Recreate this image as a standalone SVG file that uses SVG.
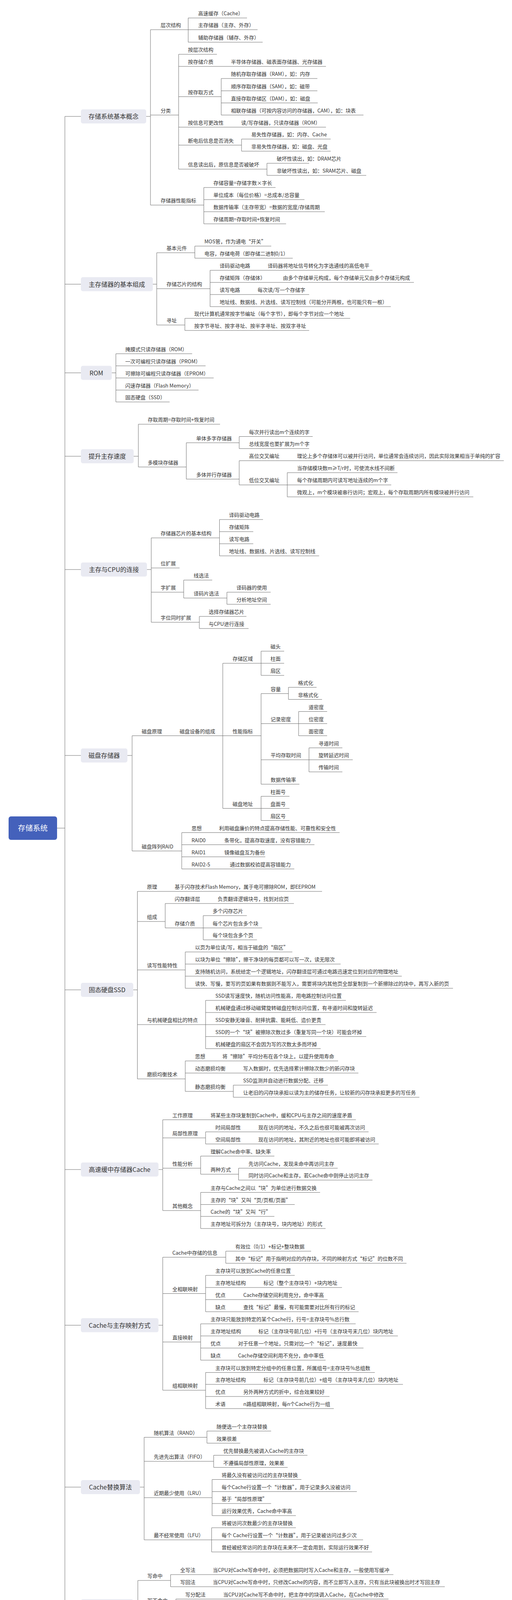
<svg xmlns="http://www.w3.org/2000/svg" width="1310" height="4238" viewBox="0 0 1310 4238">
<style>
text{font-family:"Noto Sans CJK SC","Noto Sans",sans-serif;fill:#333}
.t{font-size:13px}
.bt{font-size:16px;text-anchor:middle}
.box{fill:#e9eaf2}
.rootbox{fill:#4461bb}
.rt{font-size:19px;fill:#fff;text-anchor:middle}
.ln{fill:none;stroke:#6b6b6b;stroke-width:1}
</style>
<rect width="1310" height="4238" fill="#fff"/>
<g id="connectors">
<path class="ln" d="M146 2120H166M166 298V4112
M166 298H207M374 298H385M385 76V525
M385 76H659M481.5 46V108M481.5 46H632M481.5 108H672
M385 294.5H457M457 139V433M457 139H555M457 170H834
M457 247.5H566M566 201V294.5M566 201H812M566 232.5H812M566 263.5H813M566 294.5H930
M457 325.5H834
M457 371.5H618M618 356V387M618 356H846M618 387H846
M457 433H683M683 418V449M683 418H791M683 449H937
M385 525H521.5M521.5 480V573M521.5 480H705M521.5 511H779M521.5 542H831M521.5 573H732
M166 727.5H207M391 727.5H401M401 647V832
M401 647H498.5M498.5 630V661M498.5 630H694M498.5 661H749
M401 739H537.5M537.5 692V785M537.5 692H953M537.5 723H1059M537.5 754H791M537.5 785H1000
M401 832H473M473 815V846M473 815H896M473 846H791
M166 954.5H207M286 954.5H296.5M296.5 905.6V1029
M296.5 905.6H491.6M296.5 936.6H526M296.5 967.6H546.7M296.5 998.6H508M296.5 1029H434
M166 1168H207M342 1168H354M354 1086V1195.5
M354 1086H563
M354 1195.5H476.7M476.7 1133.5V1226.5
M476.7 1133.5H612M612 1117.5V1148.4M612 1117.5H800M612 1148.4H791
M476.7 1226.5H612M612 1179.4V1241.4M612 1179.4H1289M612 1241.4H735M735 1210V1272M735 1210H1017M735 1241.4H1001M735 1272H1211
M166 1458H207M376 1458H387M387 1377V1593
M387 1377H561.6M561.6 1330V1423M561.6 1330H673M561.6 1361H648M561.6 1392H648M561.6 1423H816.5
M387 1454H459.5
M387 1516H470M470 1485V1531M470 1485H543M470 1531H580.6M580.6 1516V1547M580.6 1516H692.5M580.6 1547H692.5
M387 1593H510M510 1578V1609M510 1578H630.5M510 1609H636
M166 1934H207M326 1934H338M338 1883.5V2178.5
M338 1883.5H570M570 1698V2069.5
M570 1698H668M668 1667V1729M668 1667H727M668 1698H727M668 1729H727
M570 1883.5H668M668 1775.6V2007.5
M668 1775.6H738M738 1759.5V1790.5M738 1759.5H810M738 1790.5H824
M668 1852.5H764M764 1821.5V1883.5M764 1821.5H837M764 1852.5H837M764 1883.5H837
M668 1945H790.6M790.6 1914.5V1976M790.6 1914.5H876M790.6 1945H902.6M790.6 1976H876
M668 2007.5H766
M570 2069.5H668M668 2038.5V2100.5M668 2038.5H740.7M668 2069.5H740.7M668 2100.5H740.7
M338 2178.5H465M465 2131.5V2224.5M465 2131.5H869M465 2162.5H804.5M465 2193.5H678.7M465 2224.5H753
M166 2534H207M341 2534H351.5M351.5 2282V2762
M351.5 2282H824
M351.5 2359H422.7M422.7 2313V2375.5M422.7 2313H752M422.7 2375.5H520M520 2344V2406M520 2344H631.6M520 2375.5H670.7M520 2406H657.5
M351.5 2483H474M474 2437V2530M474 2437H748M474 2468H871.6M474 2499H1028M474 2530H1159
M351.5 2623H526M526 2561V2684.6M526 2561H885M526 2592H963.5M526 2623H833M526 2653.6H937M526 2684.6H820.5
M351.5 2762H474M474 2716V2794M474 2716H865M474 2747H917M474 2794H597M597 2778V2809M597 2778H839M597 2809H1073
M166 2994H207M405.5 2994H416.4M416.4 2866.6V3099
M416.4 2866.6H910.6
M416.4 2913H526M526 2897.6V2928.6M526 2897.6H943M526 2928.6H969
M416.4 2990.6H513.4M513.4 2959.6V3006M513.4 2959.6H702M513.4 3006H610.4M610.4 2990.6V3021M610.4 2990.6H864M610.4 3021H953
M416.4 3099H513.4M513.4 3052.6V3145M513.4 3052.6H819M513.4 3083.6H754M513.4 3114H702M513.4 3145H833
M166 3392.6H207M405.5 3392.6H416.4M416.4 3218.5V3559
M416.4 3218.5H577.7M577.7 3203V3234M577.7 3203H796M577.7 3234H1040
M416.4 3311.5H526M526 3265V3358M526 3265H754M526 3296H875M526 3327H838M526 3358H917.5
M416.4 3435.5H513.4M513.4 3389V3482M513.4 3389H910M513.4 3420H1018M513.4 3451H930M513.4 3482H833
M416.4 3559H526M526 3513.6V3606M526 3513.6H959M526 3544H1031M526 3575H843M526 3606H854
M166 3807H207M358 3807H368.8M368.8 3679.5V3942
M368.8 3679.5H529.5M529.5 3663.5V3694.5M529.5 3663.5H693.6M529.5 3694.5H614.5
M368.8 3741H546.7M546.7 3725.5V3756.5M546.7 3725.5H786.6M546.7 3756.5H736
M368.8 3834H542.7M542.7 3787.5V3880M542.7 3787.5H771M542.7 3818.5H913M542.7 3849H693.6M542.7 3880H757
M368.8 3942H541.5M541.5 3911V3973M541.5 3911H757M541.5 3942H929M541.5 3973H952
M166 4112H207M341 4112H352.7M352.7 4046V4186
M352.7 4046H436.5M436.5 4031V4062M436.5 4031H1006.5M436.5 4062H1138
M352.7 4109H450M450 4093.5V4124M450 4093.5H994M450 4124H904
M352.7 4186H462M462 4155V4217M462 4155H702M462 4186H751M462 4217H751"/>
</g>
<g id="root"><rect class="rootbox" x="22" y="2090" width="124" height="60" rx="6"/><text class="rt" x="84" y="2127">存储系统</text></g>

<g id="n1"><rect class="box" x="207" y="280" width="167" height="36" rx="5"/><text class="bt" x="290.5" y="304">存储系统基本概念</text></g>
<g id="n1-1"><text class="t" x="411" y="69">层次结构</text></g>
<g id="n1-1-1"><text class="t" x="507" y="39">高速缓存（Cache）</text></g>
<g id="n1-1-2"><text class="t" x="507" y="69">主存储器（主存、外存）</text></g>
<g id="n1-1-3"><text class="t" x="507" y="101">辅助存储器（辅存、外存）</text></g>
<g id="n1-2"><text class="t" x="411" y="287.5">分类</text></g>
<g id="n1-2-1"><text class="t" x="481" y="132">按层次结构</text></g>
<g id="n1-2-2"><text class="t" x="481" y="163">按存储介质</text></g>
<g id="n1-2-2-1"><text class="t" x="591" y="163">半导体存储器、磁表面存储器、光存储器</text></g>
<g id="n1-2-3"><text class="t" x="481" y="240.5">按存取方式</text></g>
<g id="n1-2-3-1"><text class="t" x="591" y="194">随机存取存储器（RAM），如：内存</text></g>
<g id="n1-2-3-2"><text class="t" x="591" y="225.5">顺序存取存储器（SAM），如：磁带</text></g>
<g id="n1-2-3-3"><text class="t" x="591" y="256.5">直接存取存储区（DAM），如：磁盘</text></g>
<g id="n1-2-3-4"><text class="t" x="591" y="287.5">相联存储器（可按内容访问的存储器，CAM），如：块表</text></g>
<g id="n1-2-4"><text class="t" x="481" y="318.5">按信息可更改性</text></g>
<g id="n1-2-4-1"><text class="t" x="617" y="318.5">读/写存储器，只读存储器（ROM）</text></g>
<g id="n1-2-5"><text class="t" x="481" y="364.5">断电后信息是否消失</text></g>
<g id="n1-2-5-1"><text class="t" x="643" y="349">易失性存储器，如：内存、Cache</text></g>
<g id="n1-2-5-2"><text class="t" x="643" y="380">非易失性存储器，如：磁盘、光盘</text></g>
<g id="n1-2-6"><text class="t" x="481" y="426">信息读出后，原信息是否被破坏</text></g>
<g id="n1-2-6-1"><text class="t" x="708" y="411">破坏性读出，如：DRAM芯片</text></g>
<g id="n1-2-6-2"><text class="t" x="708" y="442">非破坏性读出，如：SRAM芯片、磁盘</text></g>
<g id="n1-3"><text class="t" x="411" y="518">存储器性能指标</text></g>
<g id="n1-3-1"><text class="t" x="546" y="473">存储容量=存储字数×字长</text></g>
<g id="n1-3-2"><text class="t" x="546" y="504">单位成本（每位价格）=总成本/总容量</text></g>
<g id="n1-3-3"><text class="t" x="546" y="535">数据传输率（主存带宽）=数据的宽度/存储周期</text></g>
<g id="n1-3-4"><text class="t" x="546" y="566">存储周期=存取时间+恢复时间</text></g>

<g id="n2"><rect class="box" x="207" y="709.5" width="184" height="36" rx="5"/><text class="bt" x="299" y="733.5">主存储器的基本组成</text></g>
<g id="n2-1"><text class="t" x="426" y="640">基本元件</text></g>
<g id="n2-1-1"><text class="t" x="523" y="623">MOS管，作为通电“开关”</text></g>
<g id="n2-1-2"><text class="t" x="523" y="654">电容，存储电荷（即存储二进制0/1）</text></g>
<g id="n2-2"><text class="t" x="426" y="732">存储芯片的结构</text></g>
<g id="n2-2-1"><text class="t" x="562" y="685">译码驱动电路</text></g>
<g id="n2-2-1-1"><text class="t" x="685" y="685">译码器将地址信号转化为字选通线的高低电平</text></g>
<g id="n2-2-2"><text class="t" x="562" y="716">存储矩阵（存储体）</text></g>
<g id="n2-2-2-1"><text class="t" x="724" y="716">由多个存储单元构成，每个存储单元又由多个存储元构成</text></g>
<g id="n2-2-3"><text class="t" x="562" y="747">读写电路</text></g>
<g id="n2-2-3-1"><text class="t" x="659" y="747">每次读/写一个存储字</text></g>
<g id="n2-2-4"><text class="t" x="562" y="778">地址线、数据线、片选线、读写控制线（可能分开两根，也可能只有一根）</text></g>
<g id="n2-3"><text class="t" x="426" y="825">寻址</text></g>
<g id="n2-3-1"><text class="t" x="497" y="808">现代计算机通常按字节编址（每个字节），即每个字节对应一个地址</text></g>
<g id="n2-3-2"><text class="t" x="497" y="839">按字节寻址、按字寻址、按半字寻址、按双字寻址</text></g>

<g id="n3"><rect class="box" x="207" y="936.5" width="79" height="36" rx="5"/><text class="bt" x="246.5" y="960.5">ROM</text></g>
<g id="n3-1"><text class="t" x="320.5" y="898.6">掩膜式只读存储器（ROM）</text></g>
<g id="n3-2"><text class="t" x="320.5" y="929.6">一次可编程只读存储器（PROM）</text></g>
<g id="n3-3"><text class="t" x="320.5" y="960.6">可擦除可编程只读存储器（EPROM）</text></g>
<g id="n3-4"><text class="t" x="320.5" y="991.6">闪速存储器（Flash Memory）</text></g>
<g id="n3-5"><text class="t" x="320.5" y="1022">固态硬盘（SSD）</text></g>

<g id="n4"><rect class="box" x="207" y="1150" width="135" height="36" rx="5"/><text class="bt" x="274.5" y="1174">提升主存速度</text></g>
<g id="n4-1"><text class="t" x="378" y="1079">存取周期=存取时间+恢复时间</text></g>
<g id="n4-2"><text class="t" x="378" y="1188.5">多模块存储器</text></g>
<g id="n4-2-1"><text class="t" x="502" y="1126.5">单体多字存储器</text></g>
<g id="n4-2-1-1"><text class="t" x="637" y="1110.5">每次并行读出m个连续的字</text></g>
<g id="n4-2-1-2"><text class="t" x="637" y="1141.4">总线宽度也要扩展为m个字</text></g>
<g id="n4-2-2"><text class="t" x="502" y="1219.5">多体并行存储器</text></g>
<g id="n4-2-2-1"><text class="t" x="637" y="1172.4">高位交叉编址</text></g>
<g id="n4-2-2-1-1"><text class="t" x="760" y="1172.4">理论上多个存储体可以被并行访问，单位通常会连续访问，因此实际效果相当于单纯的扩容</text></g>
<g id="n4-2-2-2"><text class="t" x="637" y="1234.4">低位交叉编址</text></g>
<g id="n4-2-2-2-1"><text class="t" x="760" y="1203">当存储模块数m≥T/r时，可使流水线不间断</text></g>
<g id="n4-2-2-2-2"><text class="t" x="760" y="1234.4">每个存储周期内可读写地址连续的m个字</text></g>
<g id="n4-2-2-2-3"><text class="t" x="760" y="1265">微观上，m个模块被串行访问；宏观上，每个存取周期内所有模块被并行访问</text></g>

<g id="n5"><rect class="box" x="207" y="1440" width="169" height="36" rx="5"/><text class="bt" x="291.5" y="1464">主存与CPU的连接</text></g>
<g id="n5-1"><text class="t" x="411" y="1370">存储器芯片的基本结构</text></g>
<g id="n5-1-1"><text class="t" x="586" y="1323">译码驱动电路</text></g>
<g id="n5-1-2"><text class="t" x="586" y="1354">存储矩阵</text></g>
<g id="n5-1-3"><text class="t" x="586" y="1385">读写电路</text></g>
<g id="n5-1-4"><text class="t" x="586" y="1416">地址线、数据线、片选线、读写控制线</text></g>
<g id="n5-2"><text class="t" x="411" y="1447">位扩展</text></g>
<g id="n5-3"><text class="t" x="411" y="1509">字扩展</text></g>
<g id="n5-3-1"><text class="t" x="495.6" y="1478">线选法</text></g>
<g id="n5-3-2"><text class="t" x="495.6" y="1524">译码片选法</text></g>
<g id="n5-3-2-1"><text class="t" x="605" y="1509">译码器的使用</text></g>
<g id="n5-3-2-2"><text class="t" x="605" y="1540">分析地址空间</text></g>
<g id="n5-4"><text class="t" x="411" y="1586">字位同时扩展</text></g>
<g id="n5-4-1"><text class="t" x="534" y="1571">选择存储器芯片</text></g>
<g id="n5-4-2"><text class="t" x="534" y="1602">与CPU进行连接</text></g>

<g id="n6"><rect class="box" x="207" y="1916" width="119" height="36" rx="5"/><text class="bt" x="266.5" y="1940">磁盘存储器</text></g>
<g id="n6-1"><text class="t" x="362.5" y="1876.5">磁盘原理</text></g>
<g id="n6-1-1"><text class="t" x="459.5" y="1876.5">磁盘设备的组成</text></g>
<g id="n6-1-1-1"><text class="t" x="595" y="1691">存储区域</text></g>
<g id="n6-1-1-1-1"><text class="t" x="692" y="1660">磁头</text></g>
<g id="n6-1-1-1-2"><text class="t" x="692" y="1691">柱面</text></g>
<g id="n6-1-1-1-3"><text class="t" x="692" y="1722">扇区</text></g>
<g id="n6-1-1-2"><text class="t" x="595" y="1876.5">性能指标</text></g>
<g id="n6-1-1-2-1"><text class="t" x="692.5" y="1768.6">容量</text></g>
<g id="n6-1-1-2-1-1"><text class="t" x="762.5" y="1752.5">格式化</text></g>
<g id="n6-1-1-2-1-2"><text class="t" x="762.5" y="1783.5">非格式化</text></g>
<g id="n6-1-1-2-2"><text class="t" x="692.5" y="1845.5">记录密度</text></g>
<g id="n6-1-1-2-2-1"><text class="t" x="789.5" y="1814.5">道密度</text></g>
<g id="n6-1-1-2-2-2"><text class="t" x="789.5" y="1845.5">位密度</text></g>
<g id="n6-1-1-2-2-3"><text class="t" x="789.5" y="1876.5">面密度</text></g>
<g id="n6-1-1-2-3"><text class="t" x="692.5" y="1938">平均存取时间</text></g>
<g id="n6-1-1-2-3-1"><text class="t" x="815" y="1907.5">寻道时间</text></g>
<g id="n6-1-1-2-3-2"><text class="t" x="815" y="1938">旋转延迟时间</text></g>
<g id="n6-1-1-2-3-3"><text class="t" x="815" y="1969">传输时间</text></g>
<g id="n6-1-1-2-4"><text class="t" x="692.5" y="2000.5">数据传输率</text></g>
<g id="n6-1-1-3"><text class="t" x="595" y="2062.5">磁盘地址</text></g>
<g id="n6-1-1-3-1"><text class="t" x="692" y="2031.5">柱面号</text></g>
<g id="n6-1-1-3-2"><text class="t" x="692" y="2062.5">盘面号</text></g>
<g id="n6-1-1-3-3"><text class="t" x="692" y="2093.5">扇区号</text></g>
<g id="n6-2"><text class="t" x="362.5" y="2171.5">磁盘阵列RAID</text></g>
<g id="n6-2-1"><text class="t" x="490" y="2124.5">思想</text></g>
<g id="n6-2-1-1"><text class="t" x="560.5" y="2124.5">利用磁盘廉价的特点提高存储性能、可靠性和安全性</text></g>
<g id="n6-2-2"><text class="t" x="490" y="2155.5">RAID0</text></g>
<g id="n6-2-2-1"><text class="t" x="574" y="2155.5">条带化，提高存取速度，没有容错能力</text></g>
<g id="n6-2-3"><text class="t" x="490" y="2186.5">RAID1</text></g>
<g id="n6-2-3-1"><text class="t" x="574" y="2186.5">镜像磁盘互为备份</text></g>
<g id="n6-2-4"><text class="t" x="490" y="2217.5">RAID2-5</text></g>
<g id="n6-2-4-1"><text class="t" x="588" y="2217.5">通过数据校验提高容错能力</text></g>

<g id="n7"><rect class="box" x="207" y="2516" width="134" height="36" rx="5"/><text class="bt" x="274" y="2540">固态硬盘SSD</text></g>
<g id="n7-1"><text class="t" x="376" y="2275">原理</text></g>
<g id="n7-1-1"><text class="t" x="447" y="2275">基于闪存技术Flash Memory，属于电可擦除ROM，即EEPROM</text></g>
<g id="n7-2"><text class="t" x="376" y="2352">组成</text></g>
<g id="n7-2-1"><text class="t" x="447" y="2306">闪存翻译层</text></g>
<g id="n7-2-1-1"><text class="t" x="557" y="2306">负责翻译逻辑块号，找到对应页</text></g>
<g id="n7-2-2"><text class="t" x="447" y="2368.5">存储介质</text></g>
<g id="n7-2-2-1"><text class="t" x="544" y="2337">多个闪存芯片</text></g>
<g id="n7-2-2-2"><text class="t" x="544" y="2368.5">每个芯片包含多个块</text></g>
<g id="n7-2-2-3"><text class="t" x="544" y="2399">每个块包含多个页</text></g>
<g id="n7-3"><text class="t" x="376" y="2476">读写性能特性</text></g>
<g id="n7-3-1"><text class="t" x="499" y="2430">以页为单位读/写，相当于磁盘的“扇区”</text></g>
<g id="n7-3-2"><text class="t" x="499" y="2461">以块为单位“擦除”，擦干净块的每页都可以写一次，读无限次</text></g>
<g id="n7-3-3"><text class="t" x="499" y="2492">支持随机访问，系统给定一个逻辑地址，闪存翻译层可通过电路迅速定位到对应的物理地址</text></g>
<g id="n7-3-4"><text class="t" x="499" y="2523">读快、写慢，要写的页如果有数据则不能写入，需要将块内其他页全部复制到一个新擦除过的块中，再写入新的页</text></g>
<g id="n7-4"><text class="t" x="376" y="2616">与机械硬盘相比的特点</text></g>
<g id="n7-4-1"><text class="t" x="551" y="2554">SSD读写速度快，随机访问性能高，用电路控制访问位置</text></g>
<g id="n7-4-2"><text class="t" x="551" y="2585">机械硬盘通过移动磁臂旋转磁盘控制访问位置，有寻道时间和旋转延迟</text></g>
<g id="n7-4-3"><text class="t" x="551" y="2616">SSD安静无噪音、耐摔抗震、能耗低、造价更贵</text></g>
<g id="n7-4-4"><text class="t" x="551" y="2646.6">SSD的一个“块”被擦除次数过多（重复写同一个块）可能会坏掉</text></g>
<g id="n7-4-5"><text class="t" x="551" y="2677.6">机械硬盘的扇区不会因为写的次数太多而坏掉</text></g>
<g id="n7-5"><text class="t" x="376" y="2755">磨损均衡技术</text></g>
<g id="n7-5-1"><text class="t" x="499" y="2709">思想</text></g>
<g id="n7-5-1-1"><text class="t" x="569" y="2709">将“擦除”平均分布在各个块上，以提升使用寿命</text></g>
<g id="n7-5-2"><text class="t" x="499" y="2740">动态磨损均衡</text></g>
<g id="n7-5-2-1"><text class="t" x="622" y="2740">写入数据时，优先选择累计擦除次数少的新闪存块</text></g>
<g id="n7-5-3"><text class="t" x="499" y="2787">静态磨损均衡</text></g>
<g id="n7-5-3-1"><text class="t" x="622" y="2771">SSD监测并自动进行数据分配、迁移</text></g>
<g id="n7-5-3-2"><text class="t" x="622" y="2802">让老旧的闪存块承担以读为主的储存任务，让较新的闪存块承担更多的写任务</text></g>

<g id="n8"><rect class="box" x="207" y="2976" width="198.5" height="36" rx="5"/><text class="bt" x="306" y="3000">高速缓中存储器Cache</text></g>
<g id="n8-1"><text class="t" x="441" y="2859.6">工作原理</text></g>
<g id="n8-1-1"><text class="t" x="538.7" y="2859.6">将某些主存块复制到Cache中，缓和CPU与主存之间的速度矛盾</text></g>
<g id="n8-2"><text class="t" x="441" y="2906">局部性原理</text></g>
<g id="n8-2-1"><text class="t" x="551" y="2890.6">时间局部性</text></g>
<g id="n8-2-1-1"><text class="t" x="661" y="2890.6">现在访问的地址，不久之后也很可能被再次访问</text></g>
<g id="n8-2-2"><text class="t" x="551" y="2921.6">空间局部性</text></g>
<g id="n8-2-2-1"><text class="t" x="661" y="2921.6">现在访问的地址，其附近的地址也很可能即将被访问</text></g>
<g id="n8-3"><text class="t" x="441" y="2983.6">性能分析</text></g>
<g id="n8-3-1"><text class="t" x="538.7" y="2952.6">理解Cache命中率、缺失率</text></g>
<g id="n8-3-2"><text class="t" x="538.7" y="2999">两种方式</text></g>
<g id="n8-3-2-1"><text class="t" x="635.7" y="2983.6">先访问Cache，发现未命中再访问主存</text></g>
<g id="n8-3-2-2"><text class="t" x="635.7" y="3014">同时访问Cache和主存，若Cache命中则停止访问主存</text></g>
<g id="n8-4"><text class="t" x="441" y="3092">其他概念</text></g>
<g id="n8-4-1"><text class="t" x="538.7" y="3045.6">主存与Cache之间以“块”为单位进行数据交换</text></g>
<g id="n8-4-2"><text class="t" x="538.7" y="3076.6">主存的“块”又叫“页/页框/页面”</text></g>
<g id="n8-4-3"><text class="t" x="538.7" y="3107">Cache的“块”又叫“行”</text></g>
<g id="n8-4-4"><text class="t" x="538.7" y="3138">主存地址可拆分为（主存块号，块内地址）的形式</text></g>

<g id="n9"><rect class="box" x="207" y="3374.6" width="198.5" height="36" rx="5"/><text class="bt" x="306" y="3398.6">Cache与主存映射方式</text></g>
<g id="n9-1"><text class="t" x="441" y="3211.5">Cache中存储的信息</text></g>
<g id="n9-1-1"><text class="t" x="602" y="3196">有效位（0/1）+标记+整块数据</text></g>
<g id="n9-1-2"><text class="t" x="602" y="3227">其中“标记”用于指明对应的内存块，不同的映射方式“标记”的位数不同</text></g>
<g id="n9-2"><text class="t" x="441" y="3304.5">全相联映射</text></g>
<g id="n9-2-1"><text class="t" x="551" y="3258">主存块可以放到Cache的任意位置</text></g>
<g id="n9-2-2"><text class="t" x="551" y="3289">主存地址结构</text></g>
<g id="n9-2-2-1"><text class="t" x="674" y="3289">标记（整个主存块号）+块内地址</text></g>
<g id="n9-2-3"><text class="t" x="551" y="3320">优点</text></g>
<g id="n9-2-3-1"><text class="t" x="622.5" y="3320">Cache存储空间利用充分，命中率高</text></g>
<g id="n9-2-4"><text class="t" x="551" y="3351">缺点</text></g>
<g id="n9-2-4-1"><text class="t" x="622.5" y="3351">查找“标记”最慢，有可能需要对比所有行的标记</text></g>
<g id="n9-3"><text class="t" x="441" y="3428.5">直接映射</text></g>
<g id="n9-3-1"><text class="t" x="538.7" y="3382">主存块只能放到特定的某个Cache行，行号=主存块号%总行数</text></g>
<g id="n9-3-2"><text class="t" x="538.7" y="3413">主存地址结构</text></g>
<g id="n9-3-2-1"><text class="t" x="661" y="3413">标记（主存块号前几位）+行号（主存块号末几位）块内地址</text></g>
<g id="n9-3-3"><text class="t" x="538.7" y="3444">优点</text></g>
<g id="n9-3-3-1"><text class="t" x="609" y="3444">对于任意一个地址，只需对比一个“标记”，速度最快</text></g>
<g id="n9-3-4"><text class="t" x="538.7" y="3475">缺点</text></g>
<g id="n9-3-4-1"><text class="t" x="609" y="3475">Cache存储空间利用不充分，命中率低</text></g>
<g id="n9-4"><text class="t" x="441" y="3552">组相联映射</text></g>
<g id="n9-4-1"><text class="t" x="551" y="3506.6">主存块可以放到特定分组中的任意位置，所属组号=主存块号%总组数</text></g>
<g id="n9-4-2"><text class="t" x="551" y="3537">主存地址结构</text></g>
<g id="n9-4-2-1"><text class="t" x="674" y="3537">标记（主存块号前几位）+组号（主存块号末几位）块内地址</text></g>
<g id="n9-4-3"><text class="t" x="551" y="3568">优点</text></g>
<g id="n9-4-3-1"><text class="t" x="622.5" y="3568">另外两种方式的折中，综合效果较好</text></g>
<g id="n9-4-4"><text class="t" x="551" y="3599">术语</text></g>
<g id="n9-4-4-1"><text class="t" x="622.5" y="3599">n路组相联映射，每n个Cache行为一组</text></g>

<g id="n10"><rect class="box" x="207" y="3789" width="151" height="36" rx="5"/><text class="bt" x="282.5" y="3813">Cache替换算法</text></g>
<g id="n10-1"><text class="t" x="393.5" y="3672.5">随机算法（RAND）</text></g>
<g id="n10-1-1"><text class="t" x="554" y="3656.5">随便选一个主存块替换</text></g>
<g id="n10-1-2"><text class="t" x="554" y="3687.5">效果很差</text></g>
<g id="n10-2"><text class="t" x="393.5" y="3734">先进先出算法（FIFO）</text></g>
<g id="n10-2-1"><text class="t" x="571.4" y="3718.5">优先替换最先被调入Cache的主存块</text></g>
<g id="n10-2-2"><text class="t" x="571.4" y="3749.5">不遵循局部性原理，效果差</text></g>
<g id="n10-3"><text class="t" x="393.5" y="3827">近期最少使用（LRU）</text></g>
<g id="n10-3-1"><text class="t" x="567" y="3780.5">将最久没有被访问过的主存块替换</text></g>
<g id="n10-3-2"><text class="t" x="567" y="3811.5">每个Cache行设置一个“计数器”，用于记录多久没被访问</text></g>
<g id="n10-3-3"><text class="t" x="567" y="3842">基于“局部性原理”</text></g>
<g id="n10-3-4"><text class="t" x="567" y="3873">运行效果优秀，Cache命中率高</text></g>
<g id="n10-4"><text class="t" x="393.5" y="3935">最不经常使用（LFU）</text></g>
<g id="n10-4-1"><text class="t" x="567" y="3904">将被访问次数最少的主存块替换</text></g>
<g id="n10-4-2"><text class="t" x="567" y="3935">每个 Cache行设置一个“计数器”，用于记录被访问过多少次</text></g>
<g id="n10-4-3"><text class="t" x="567" y="3966">曾经被经常访问的主存块在未来不一定会用到，实际运行效果不好</text></g>

<g id="n11"><rect class="box" x="207" y="4094" width="134" height="36" rx="5"/><text class="bt" x="274" y="4118">Cache写策略</text></g>
<g id="n11-1"><text class="t" x="377" y="4039">写命中</text></g>
<g id="n11-1-1"><text class="t" x="461" y="4024">全写法</text></g>
<g id="n11-1-1-1"><text class="t" x="544.4" y="4024">当CPU对Cache写命中时，必须把数据同时写入Cache和主存，一般使用写缓冲</text></g>
<g id="n11-1-2"><text class="t" x="461" y="4055">写回法</text></g>
<g id="n11-1-2-1"><text class="t" x="544.4" y="4055">当CPU对Cache写命中时，只修改Cache的内容，而不立即写入主存，只有当此块被换出时才写回主存</text></g>
<g id="n11-2"><text class="t" x="377" y="4102">写不命中</text></g>
<g id="n11-2-1"><text class="t" x="474" y="4086.5">写分配法</text></g>
<g id="n11-2-1-1"><text class="t" x="571" y="4086.5">当CPU对Cache写不命中时，把主存中的块调入Cache，在Cache中修改</text></g>
<g id="n11-2-2"><text class="t" x="474" y="4117">非写分配法</text></g>
<g id="n11-2-2-1"><text class="t" x="583.4" y="4117">当CPU对Cache写不命中时只写入主存，不调入Cache</text></g>
<g id="n11-3"><text class="t" x="377" y="4179">多级Cache</text></g>
<g id="n11-3-1"><text class="t" x="486" y="4148">现代计算机通常采用多级Cache结构</text></g>
<g id="n11-3-2"><text class="t" x="486" y="4179">各级Cache间常采用“全写法+非写分配法”</text></g>
<g id="n11-3-3"><text class="t" x="486" y="4210">Cache和主存间常采用“写回法+写分配法”</text></g>
</svg>
